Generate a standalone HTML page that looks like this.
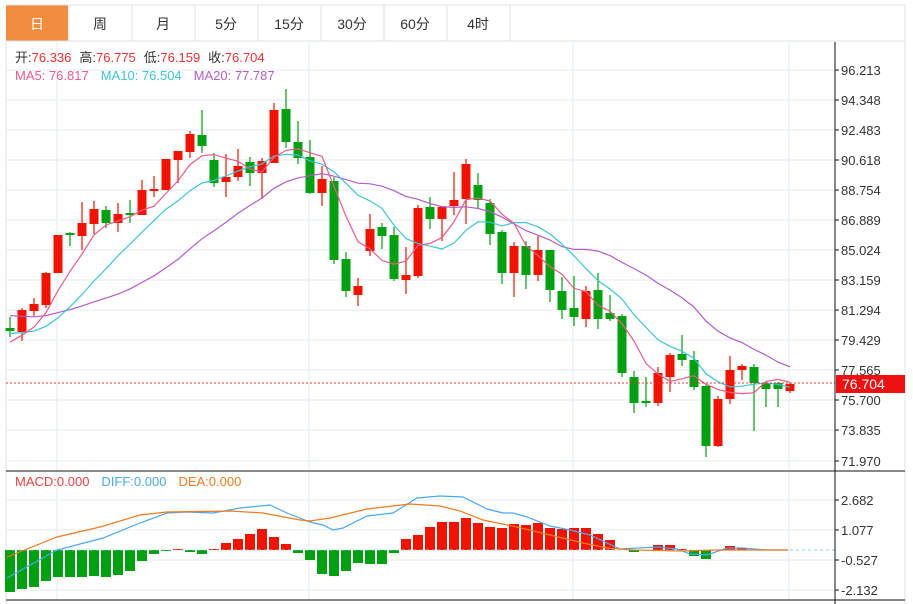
<!DOCTYPE html>
<html><head><meta charset="utf-8"><style>
html,body{margin:0;padding:0;background:#fff;width:913px;height:604px;overflow:hidden}
body{font-family:"Liberation Sans","Noto Sans CJK SC",sans-serif}
svg{position:absolute;left:0;top:0}
</style></head><body>
<svg id="s" width="913" height="604" xmlns="http://www.w3.org/2000/svg" font-family="Liberation Sans, Noto Sans CJK SC, sans-serif">
<rect x="6" y="5" width="62" height="36" fill="#f28c3f"/>
<g stroke="#dde3ea" fill="none">
<line x1="6" y1="5" x2="905" y2="5"/><line x1="6" y1="41" x2="905" y2="41"/>
<line x1="905" y1="5" x2="905" y2="604"/><line x1="6" y1="41" x2="6" y2="604"/>
<line x1="132" y1="5" x2="132" y2="41"/><line x1="195" y1="5" x2="195" y2="41"/><line x1="258" y1="5" x2="258" y2="41"/><line x1="321" y1="5" x2="321" y2="41"/><line x1="384" y1="5" x2="384" y2="41"/><line x1="447" y1="5" x2="447" y2="41"/><line x1="510" y1="5" x2="510" y2="41"/>
<line x1="69" y1="5" x2="69" y2="41"/>
</g>
<g font-size="14" text-anchor="middle" fill="#333">
<text x="37" y="29" fill="#fff">日</text><text x="100" y="29">周</text><text x="163" y="29">月</text><text x="226" y="29">5分</text><text x="289" y="29">15分</text><text x="352" y="29">30分</text><text x="415" y="29">60分</text><text x="478" y="29">4时</text>
</g>
<g id="grid" stroke="#e3ebf2" stroke-width="1"></g>
<g id="cand"></g>
<g id="ma" fill="none" stroke-width="1.2"></g>
<line x1="6" y1="383" x2="835" y2="383" stroke="#f03030" stroke-dasharray="2,2"/>
<line x1="6" y1="471" x2="835" y2="471" stroke="#111"/>
<line x1="6" y1="600" x2="905" y2="600" stroke="#111"/>
<line x1="835" y1="42" x2="835" y2="604" stroke="#111"/>
<line x1="835" y1="471" x2="905" y2="471" stroke="#111"/>
<g id="ax" font-size="13" fill="#333"></g>
<rect x="836" y="375" width="69" height="18" fill="#ee1111"/>
<text x="842" y="389" font-size="14" fill="#fff">76.704</text>
<g font-size="13">
<text x="15" y="62"><tspan fill="#333">开:</tspan><tspan fill="#f03030">76.336</tspan><tspan fill="#333" dx="8">高:</tspan><tspan fill="#f03030">76.775</tspan><tspan fill="#333" dx="8">低:</tspan><tspan fill="#f03030">76.159</tspan><tspan fill="#333" dx="8">收:</tspan><tspan fill="#f03030">76.704</tspan></text>
<text x="15" y="80"><tspan fill="#ec5a8a">MA5: 76.817</tspan><tspan dx="12" fill="#3cc4d8">MA10: 76.504</tspan><tspan dx="12" fill="#b45cc8">MA20: 77.787</tspan></text>
<text x="15" y="486"><tspan fill="#f04040">MACD:0.000</tspan><tspan dx="12" fill="#4aa8f0">DIFF:0.000</tspan><tspan dx="12" fill="#f07a20">DEA:0.000</tspan></text>
</g>
</svg>
<script>
var NS="http://www.w3.org/2000/svg";
function el(p,t,a){var e=document.createElementNS(NS,t);for(var k in a)e.setAttribute(k,a[k]);document.getElementById(p).appendChild(e);return e;}
[70,100,130,160,190,220,250,280,310,340,370,400,430,461,500,530,560,590].forEach(function(y){el('grid','line',{x1:6,x2:835,y1:y,y2:y});});
[57,309,573,789].forEach(function(x){el('grid','line',{x1:x,x2:x,y1:42,y2:470});el('grid','line',{x1:x,x2:x,y1:472,y2:600});});
var labs=[["96.213",70],["94.348",100],["92.483",130],["90.618",160],["88.754",190],["86.889",220],["85.024",250],["83.159",280],["81.294",310],["79.429",340],["77.565",370],["75.700",400],["73.835",430],["71.970",461],["2.682",500],["1.077",530],["-0.527",560],["-2.132",590]];
labs.forEach(function(l){el('ax','line',{x1:835,x2:839,y1:l[1],y2:l[1],stroke:"#111"});var t=el('ax','text',{x:841,y:l[1]+5});t.textContent=l[0];});
var C=[[328,331,317,337],[332,310,308,341],[311,304,298,316],[305,273,272,308],[273,235,235,273],[233,235,232,246],[236,223,202,250],[224,209,201,234],[210,223,206,228],[223,214,203,232],[213,215,200,223],[215,190,180,215],[191,189,176,197],[190,159,159,190],[160,151,151,183],[152,134,131,158],[135,146,110,153],[160,183,153,187],[182,177,154,197],[177,166,149,181],[162,173,157,186],[173,161,158,199],[163,110,103,163],[109,142,89,148],[142,158,121,164],[157,193,140,194],[193,179,166,206],[181,260,177,264],[259,291,252,297],[295,286,278,306],[251,229,214,256],[227,236,223,249],[235,279,227,281],[280,275,247,294],[276,208,205,278],[207,219,197,229],[219,207,207,241],[206,200,172,215],[199,164,159,224],[185,200,173,208],[203,234,199,245],[232,273,230,284],[273,246,242,297],[246,275,241,289],[275,250,236,281],[250,290,250,302],[291,310,277,319],[308,317,276,326],[319,291,286,327],[290,319,273,329],[313,319,295,321],[316,373,314,377],[377,403,371,413],[401,403,377,407],[403,373,367,406],[377,355,353,392],[354,360,335,366],[360,387,351,390],[386,446,384,457],[446,399,396,447],[399,370,356,404],[370,366,364,380],[367,383,364,431],[383,389,382,407],[383,389,382,407],[391,384,383,393]];
C.forEach(function(c,i){var x=10+12*i;var up=c[1]<c[0];var col=up?"#f01400":"#00a010";
el('cand','line',{x1:x,x2:x,y1:c[2],y2:c[3],stroke:col,"stroke-width":1.2});
var t=Math.min(c[0],c[1]),b=Math.max(c[0],c[1]);if(b-t<2){b=t+2;}
el('cand','rect',{x:x-4.5,y:t,width:9,height:b-t,fill:col});});
var cl=[];for(var k=0;k<10;k++)cl.push(295);for(k=0;k<5;k++)cl.push(320);for(k=0;k<5;k++)cl.push(345);
C.forEach(function(c){cl.push(c[1]);});
function ma(n,col){var p=[];for(var i=0;i<C.length;i++){var s=0;for(var j=0;j<n;j++)s+=cl[20+i-j];p.push((10+12*i)+","+(s/n).toFixed(1));}
el('ma','polyline',{points:p.join(" "),stroke:col});}
ma(20,"#b45cc8");ma(10,"#3cc4d8");ma(5,"#ec5a8a");
var H=[592,589,587,581,577,577,577,576,577,575,571,561,554,551,549,552,554,549,543,539,534,529,537,544,553,560,574,576,571,563,564,564,553,539,535,527,522,522,518,523,527,528,524,525,523,528,529,528,528,534,540,550,552,550,545,545,549,556,559,550,546,548,550,550,550,550];
H.forEach(function(h,i){var x=10+12*i;if(Math.abs(h-550)<1)return;var col=h<550?"#f01400":"#00a010";
el('cand','rect',{x:x-5,y:Math.min(h,550),width:10,height:Math.abs(h-550),fill:col});});
el('ma','line',{x1:790,x2:835,y1:550,y2:550,stroke:"#a8d8ea","stroke-dasharray":"3,3"});
el('ma','line',{x1:6,x2:790,y1:550,y2:550,stroke:"#a8d8ea","stroke-dasharray":"3,3","stroke-width":0.8});
el('ma','polyline',{stroke:"#4aa8f0",points:"7,578 57,550 103,538 140,523 167,513 187,512 213,513 240,508 270,505 287,513 310,522 323,525 333,530 343,528 367,516 393,513 417,498 440,496 463,497 487,509 503,513 513,513 527,517 550,526 570,530 590,535 620,549 657,547 677,549 690,554 707,555 727,548 743,548 767,550 788,550"});
el('ma','polyline',{stroke:"#f07a20",points:"7,557 57,537 100,527 140,515 167,512 230,511 263,513 300,520 310,521 330,518 367,509 410,504 440,506 460,511 483,520 517,527 550,535 583,543 607,548 633,550 683,551 717,550 788,550"});
</script>
</body></html>
